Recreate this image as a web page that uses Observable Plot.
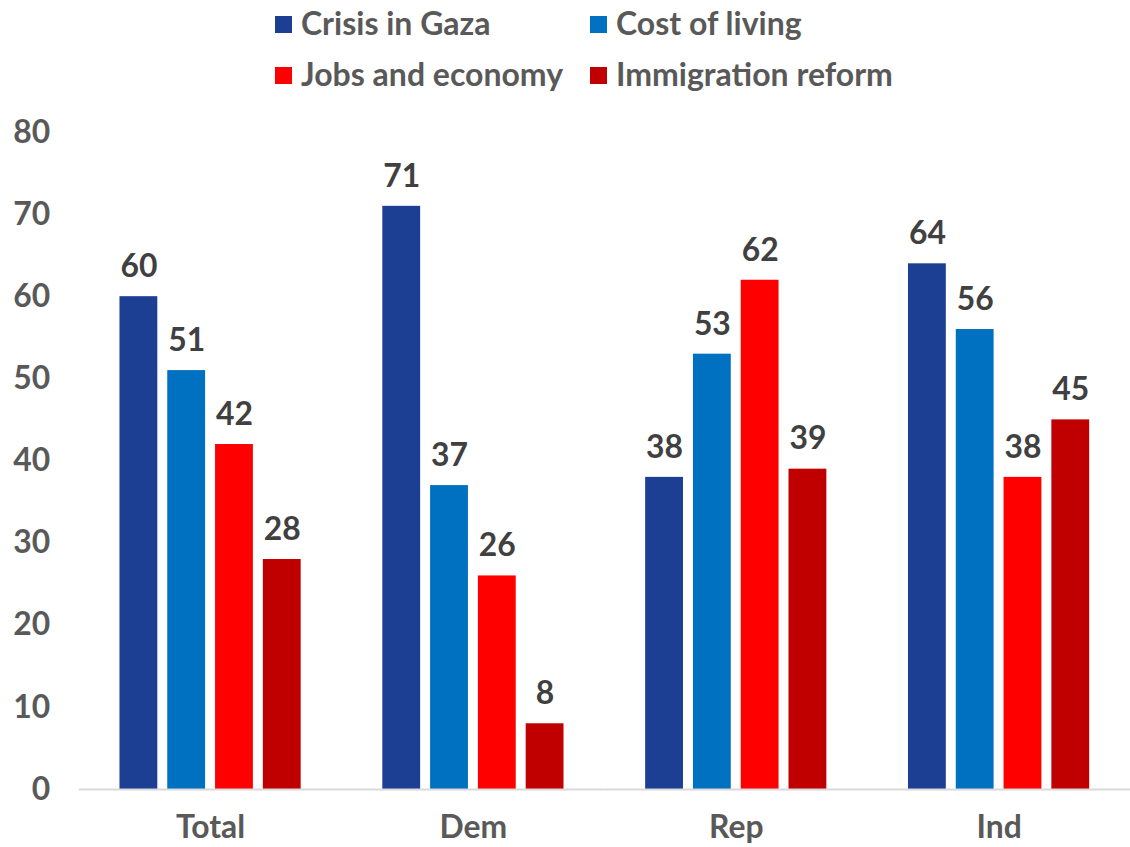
<!DOCTYPE html>
<html>
<head>
<meta charset="utf-8">
<script src="https://cdn.jsdelivr.net/npm/d3@7"></script>
<script src="https://cdn.jsdelivr.net/npm/@observablehq/plot@0.6"></script>
<style>
  html, body { margin: 0; padding: 0; background: #fff; overflow: hidden; width: 1130px; height: 847px; }
  #legend { position: relative; width: 1130px; height: 110px; font-family: Lato, sans-serif; font-weight: 700; font-size: 32px; color: #595959; }
  #chart { width: 1130px; height: 737px; overflow: hidden; }
  #chart svg { display: block; }
  .item { position: absolute; display: flex; align-items: center; line-height: 36px; height: 36px; white-space: nowrap; }
  .sw { width: 17px; height: 17px; margin-right: 9px; margin-top: 3px; flex: none; }
</style>
</head>
<body>
<div id="legend"></div>
<div id="chart"></div>
<script>
const groups = ["Total", "Dem", "Rep", "Ind"];
const series = ["Crisis in Gaza", "Cost of living", "Jobs and economy", "Immigration reform"];
const crisisInGaza = [60, 71, 38, 64];
const costOfLiving = [51, 37, 53, 56];
const jobsAndEconomy = [42, 26, 62, 38];
const immigrationReform = [28, 8, 39, 45];
const colors = ["#1c3f94", "#0070c0", "#ff0000", "#c00000"];
const yTicks = [0, 10, 20, 30, 40, 50, 60, 70, 80];

const seriesValues = [crisisInGaza, costOfLiving, jobsAndEconomy, immigrationReform];
const rows = [];
groups.forEach((g, i) => series.forEach((s, j) => rows.push({group: g, series: s, value: seriesValues[j][i]})));

// Legend (HTML, above the SVG)
const legend = document.getElementById("legend");
const legendPos = [[275, 5], [590, 5], [275, 56], [590, 56]];
series.forEach((s, j) => {
  const it = document.createElement("div");
  it.className = "item";
  it.style.left = legendPos[j][0] + "px";
  it.style.top = legendPos[j][1] + "px";
  const sw = document.createElement("span");
  sw.className = "sw";
  sw.style.background = colors[j];
  const tx = document.createElement("span");
  tx.textContent = s;
  it.appendChild(sw);
  it.appendChild(tx);
  legend.appendChild(it);
});

const chart = Plot.plot({
  width: 1135,
  height: 737,
  marginLeft: 78,
  marginRight: 0,
  marginTop: 22,
  marginBottom: 55,
  style: {fontFamily: "Lato, sans-serif", fontWeight: 700, fontSize: "32px", color: "#595959", background: "white"},
  fx: {domain: groups, paddingInner: 0, paddingOuter: 0, label: null},
  x: {domain: series, paddingInner: 10 / 48, paddingOuter: 0.854, axis: null},
  y: {domain: [0, 80], label: null},
  color: {domain: series, range: colors},
  marks: [
    Plot.axisY({ticks: yTicks, tickSize: 0, tickPadding: 29, label: null, fill: "#595959", fontSize: 32, fontWeight: 700}),
    Plot.axisFx({anchor: "bottom", tickSize: 0, tickPadding: 26, label: null, fill: "#595959", fontSize: 32, fontWeight: 700}),
    Plot.barY(rows, {fx: "group", x: "series", y: "value", fill: "series"}),
    Plot.ruleY([0], {stroke: "#d9d9d9", strokeWidth: 2}),
    Plot.text(rows, {fx: "group", x: "series", y: "value", text: d => String(d.value), dy: -30, fill: "#404040", fontSize: 32, fontWeight: 700})
  ]
});
document.getElementById("chart").appendChild(chart);
</script>
</body>
</html>
